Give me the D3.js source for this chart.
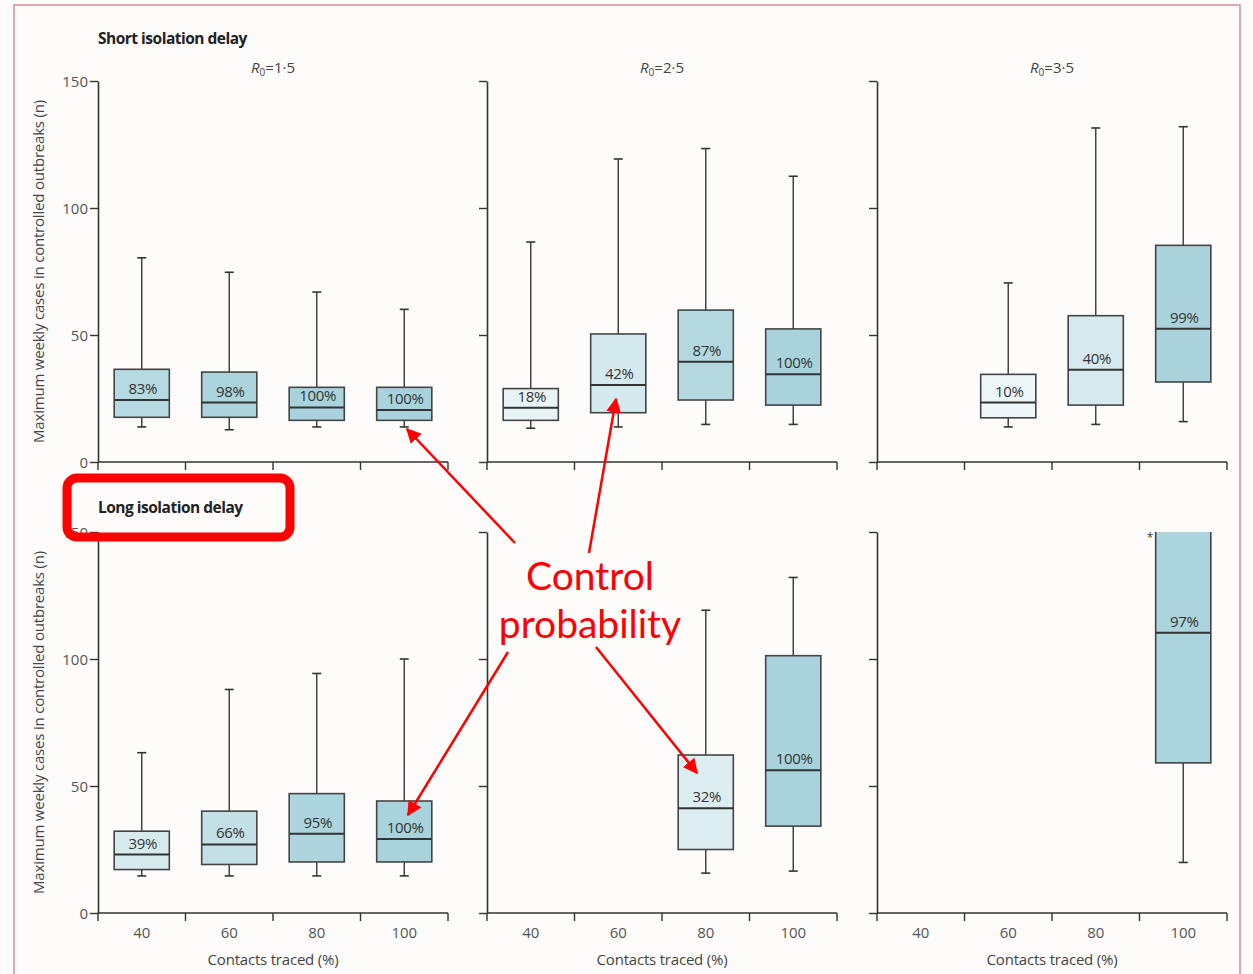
<!DOCTYPE html>
<html>
<head>
<meta charset="utf-8">
<script src="https://cdn.jsdelivr.net/npm/d3@7"></script>
<style>
  body { margin: 0; background: #fdfcfb; }
  svg { display: block; }
  .tick-lab { font-family: "Open Sans", sans-serif; font-size: 15px; fill: #555; }
  .ax-title { font-family: "Open Sans", sans-serif; font-size: 15px; fill: #444; letter-spacing: -0.2px; }
  .pct { font-family: "Open Sans", sans-serif; font-size: 15px; fill: #333; letter-spacing: -0.3px; }
</style>
</head>
<body>
<div id="chart"></div>
<script>
// contacts traced (%) categories
var categories = [40, 60, 80, 100];
var yTicks = [0, 50, 100, 150];
var r0Values = ["1·5", "2·5", "3·5"];
var delayTitles = ["Short isolation delay", "Long isolation delay"];

// box stats: low whisker, q1, median, q3, high whisker, control probability (%)
var shortR15 = [
  { traced: 40, lo: 13.8, q1: 17.6, med: 24.4, q3: 36.5, hi: 80.4, p: 83 },
  { traced: 60, lo: 12.7, q1: 17.6, med: 23.4, q3: 35.4, hi: 74.7, p: 98 },
  { traced: 80, lo: 13.8, q1: 16.4, med: 21.5, q3: 29.4, hi: 66.9, p: 100 },
  { traced: 100, lo: 13.8, q1: 16.4, med: 20.5, q3: 29.4, hi: 60.1, p: 100 }
];
var shortR25 = [
  { traced: 40, lo: 13.3, q1: 16.4, med: 21.4, q3: 28.9, hi: 86.6, p: 18 },
  { traced: 60, lo: 13.8, q1: 19.4, med: 30.3, q3: 50.4, hi: 119.3, p: 42 },
  { traced: 80, lo: 14.8, q1: 24.4, med: 39.5, q3: 59.8, hi: 123.4, p: 87 },
  { traced: 100, lo: 14.8, q1: 22.4, med: 34.5, q3: 52.4, hi: 112.5, p: 100 }
];
var shortR35 = [
  { traced: 60, lo: 13.8, q1: 17.4, med: 23.4, q3: 34.5, hi: 70.5, p: 10 },
  { traced: 80, lo: 14.8, q1: 22.4, med: 36.3, q3: 57.6, hi: 131.5, p: 40 },
  { traced: 100, lo: 15.9, q1: 31.5, med: 52.5, q3: 85.3, hi: 132, p: 99 }
];
var longR15 = [
  { traced: 40, lo: 14.6, q1: 17.1, med: 23.0, q3: 32.2, hi: 63.1, p: 39 },
  { traced: 60, lo: 14.6, q1: 19.1, med: 27.0, q3: 40.1, hi: 88.0, p: 66 },
  { traced: 80, lo: 14.6, q1: 20.1, med: 31.2, q3: 47.0, hi: 94.3, p: 95 },
  { traced: 100, lo: 14.6, q1: 20.1, med: 29.1, q3: 44.1, hi: 100, p: 100 }
];
var longR25 = [
  { traced: 80, lo: 15.7, q1: 25.0, med: 41.2, q3: 62.2, hi: 119.2, p: 32 },
  { traced: 100, lo: 16.5, q1: 34.2, med: 56.2, q3: 101.3, hi: 132.1, p: 100 }
];
// box runs off the top of the axis (truncated, marked with *)
var longR35 = [
  { traced: 100, lo: 19.9, q1: 59.1, med: 110.3, q3: 170, hi: 170, p: 97, truncated: true }
];

var panels = [
  [shortR15, shortR25, shortR35],
  [longR15, longR25, longR35]
];

var width = 1253, height = 974;
var colX = [98, 487, 877];
var panelW = 350;
var rowY = [[462, 81], [913, 532]];

var svg = d3.select("#chart").append("svg")
  .attr("width", width)
  .attr("height", height);

svg.append("rect")
  .attr("x", 14).attr("y", 5)
  .attr("width", 1226).attr("height", 1000)
  .attr("fill", "none")
  .attr("stroke", "#d98b9b")
  .attr("stroke-width", 1.5);

var color = d3.scaleLinear().domain([0, 100]).range(["#f5fafb", "#a9d3dc"]);

panels.forEach(function (row, ri) {
  var y = d3.scaleLinear().domain([0, 150]).range(rowY[ri]);

  svg.append("text")
    .attr("x", colX[0]).attr("y", ri == 0 ? 44 : 513)
    .attr("font-family", "Open Sans, sans-serif")
    .attr("font-weight", 700)
    .attr("font-size", 15.5)
    .attr("letter-spacing", -0.5)
    .attr("fill", "#222")
    .text(delayTitles[ri]);

  row.forEach(function (data, ci) {
    var x = d3.scaleBand().domain(categories).range([colX[ci], colX[ci] + panelW]).padding(0);
    var g = svg.append("g");

    var clipId = "clip" + ri + ci;
    svg.append("clipPath").attr("id", clipId)
      .append("rect")
      .attr("x", colX[ci]).attr("y", y(150))
      .attr("width", panelW).attr("height", y(0) - y(150) + 20);

    // y axis
    var yAxis = d3.axisLeft(y).tickValues(yTicks).tickSize(8).tickSizeOuter(0);
    var ya = g.append("g").attr("transform", "translate(" + colX[ci] + ",0)").call(yAxis);
    ya.select(".domain").attr("stroke", "#333").attr("stroke-width", 1.6);
    ya.selectAll(".tick line").attr("stroke", "#333").attr("stroke-width", 1.4);
    ya.selectAll(".tick text").attr("class", "tick-lab").attr("x", -10).attr("dy", "0.36em")
      .style("display", ci == 0 ? null : "none");

    // x axis: ticks at band edges
    var edges = categories.map(function (c) { return x(c); }).concat([colX[ci] + panelW]);
    g.append("line")
      .attr("x1", colX[ci]).attr("x2", colX[ci] + panelW)
      .attr("y1", y(0)).attr("y2", y(0))
      .attr("stroke", "#333").attr("stroke-width", 1.6);
    g.selectAll(".xt").data(edges).enter().append("line")
      .attr("x1", function (d) { return d; }).attr("x2", function (d) { return d; })
      .attr("y1", y(0)).attr("y2", y(0) + 8)
      .attr("stroke", "#333").attr("stroke-width", 1.4);

    if (ri == 1) {
      g.selectAll(".xl").data(categories).enter().append("text")
        .attr("class", "tick-lab")
        .attr("x", function (d) { return x(d) + x.bandwidth() / 2; })
        .attr("y", y(0) + 25)
        .attr("text-anchor", "middle")
        .text(function (d) { return d; });
      g.append("text")
        .attr("class", "ax-title")
        .attr("x", colX[ci] + panelW / 2).attr("y", y(0) + 52)
        .attr("text-anchor", "middle")
        .text("Contacts traced (%)");
    }

    if (ri == 0) {
      var t = g.append("text")
        .attr("x", colX[ci] + panelW / 2).attr("y", 73)
        .attr("text-anchor", "middle")
        .attr("font-family", "Open Sans, sans-serif")
        .attr("font-size", 15)
        .attr("fill", "#444");
      t.append("tspan").attr("font-style", "italic").text("R");
      t.append("tspan").attr("font-size", 10).attr("dy", 3).text("0");
      t.append("tspan").attr("dy", -3).text("=" + r0Values[ci]);
    }

    if (ci == 0) {
      var mid = (rowY[ri][0] + rowY[ri][1]) / 2;
      g.append("text")
        .attr("class", "ax-title")
        .attr("transform", "translate(44," + mid + ") rotate(-90)")
        .attr("text-anchor", "middle")
        .text("Maximum weekly cases in controlled outbreaks (n)");
    }

    // boxes
    var bw = x.bandwidth() * 0.63;
    var boxes = g.append("g").attr("clip-path", "url(#" + clipId + ")")
      .selectAll(".box").data(data).enter().append("g");

    boxes.each(function (d) {
      var b = d3.select(this);
      var cx = x(d.traced) + x.bandwidth() / 2;
      // whiskers
      b.append("line").attr("x1", cx).attr("x2", cx).attr("y1", y(d.q1)).attr("y2", y(d.lo))
        .attr("stroke", "#444").attr("stroke-width", 1.5);
      b.append("line").attr("x1", cx).attr("x2", cx).attr("y1", y(d.q3)).attr("y2", y(d.hi))
        .attr("stroke", "#444").attr("stroke-width", 1.5);
      b.append("line").attr("x1", cx - 4.5).attr("x2", cx + 4.5).attr("y1", y(d.lo)).attr("y2", y(d.lo))
        .attr("stroke", "#333").attr("stroke-width", 1.6);
      if (!d.truncated) {
        b.append("line").attr("x1", cx - 4.5).attr("x2", cx + 4.5).attr("y1", y(d.hi)).attr("y2", y(d.hi))
          .attr("stroke", "#333").attr("stroke-width", 1.6);
      }
      b.append("rect")
        .attr("x", cx - bw / 2).attr("width", bw)
        .attr("y", y(d.q3)).attr("height", y(d.q1) - y(d.q3))
        .attr("fill", color(d.p))
        .attr("stroke", "#444").attr("stroke-width", 1.6);
      b.append("line").attr("x1", cx - bw / 2).attr("x2", cx + bw / 2)
        .attr("y1", y(d.med)).attr("y2", y(d.med))
        .attr("stroke", "#333").attr("stroke-width", 2);
      b.append("text")
        .attr("class", "pct")
        .attr("x", cx + 1).attr("y", y(d.med) - 6)
        .attr("text-anchor", "middle")
        .text(d.p + "%");
    });

    data.filter(function (d) { return d.truncated; }).forEach(function (d) {
      var cx = x(d.traced) + x.bandwidth() / 2;
      g.append("text")
        .attr("x", cx - bw / 2 - 9).attr("y", y(150) + 10)
        .attr("font-family", "Open Sans, sans-serif")
        .attr("font-size", 12).attr("fill", "#444")
        .text("*");
    });
  });
});

// red annotations
var red = "#ff0000";
svg.append("defs").append("marker")
  .attr("id", "arrow")
  .attr("viewBox", "0 0 10 10")
  .attr("refX", 9).attr("refY", 5)
  .attr("markerWidth", 6).attr("markerHeight", 6)
  .attr("markerUnits", "strokeWidth")
  .attr("orient", "auto")
  .append("path").attr("d", "M0,0 L10,5 L0,10 z").attr("fill", red);

svg.append("rect")
  .attr("x", 67).attr("y", 478)
  .attr("width", 223).attr("height", 59)
  .attr("rx", 10)
  .attr("fill", "none")
  .attr("stroke", red)
  .attr("stroke-width", 9);

var arrows = [
  [515, 543, 407, 429],
  [589, 553, 616, 399],
  [508, 652, 408, 815],
  [596, 647, 697, 773]
];
svg.selectAll(".arr").data(arrows).enter().append("line")
  .attr("x1", function (d) { return d[0]; }).attr("y1", function (d) { return d[1]; })
  .attr("x2", function (d) { return d[2]; }).attr("y2", function (d) { return d[3]; })
  .attr("stroke", red).attr("stroke-width", 2.5)
  .attr("marker-end", "url(#arrow)");

var ann = svg.append("text")
  .attr("text-anchor", "middle")
  .attr("font-family", "Lato, sans-serif")
  .attr("font-size", 39)
  .attr("fill", red);
ann.append("tspan").attr("x", 590).attr("y", 590).text("Control");
ann.append("tspan").attr("x", 590).attr("y", 638).text("probability");
</script>
</body>
</html>
